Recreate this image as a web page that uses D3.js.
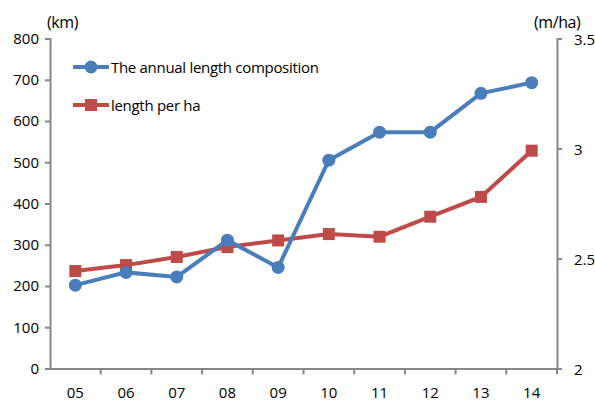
<!DOCTYPE html>
<html>
<head>
<meta charset="utf-8">
<script src="https://cdn.jsdelivr.net/npm/d3@7"></script>
<style>
  body { margin: 0; background: #fff; }
  text { font-family: "Open Sans", sans-serif; fill: #000; }
</style>
</head>
<body>
<script>
// chart data
var years = ["05", "06", "07", "08", "09", "10", "11", "12", "13", "14"];
var annualLength = [202, 233, 222, 311, 245, 505, 573, 573, 667, 693];
var lengthPerHa = [2.443, 2.47, 2.507, 2.552, 2.582, 2.611, 2.599, 2.69, 2.78, 2.99];
var leftTicks = [0, 100, 200, 300, 400, 500, 600, 700, 800];
var rightTicks = [2, 2.5, 3, 3.5];
var seriesNames = ["The annual length composition", "length per ha"];

var width = 595,
    height = 401;
var margin = {top: 38.5, right: 38, bottom: 32.5, left: 50};

var blue = "#4a7ebb", red = "#be4b48", axisColor = "#878787";

var svg = d3.select("body").append("svg")
    .attr("width", width)
    .attr("height", height);

var x = d3.scaleBand().domain(years)
    .range([margin.left, width - margin.right]);
var yL = d3.scaleLinear().domain([0, 800])
    .range([height - margin.bottom, margin.top]);
var yR = d3.scaleLinear().domain([2, 3.5])
    .range([height - margin.bottom, margin.top]);

// left axis
var gL = svg.append("g")
    .attr("transform", "translate(" + margin.left + ",0)")
    .call(d3.axisLeft(yL).tickValues(leftTicks).tickSize(5).tickPadding(6));
// right axis
var gR = svg.append("g")
    .attr("transform", "translate(" + (width - margin.right) + ",0)")
    .call(d3.axisRight(yR).tickValues(rightTicks).tickFormat(function(d) { return d; }).tickSize(5).tickPadding(12));
// bottom axis, ticks drawn between categories below
var gB = svg.append("g")
    .attr("transform", "translate(0," + (height - margin.bottom) + ")")
    .call(d3.axisBottom(x).tickSize(0).tickPadding(19));

[gL, gR, gB].forEach(function(g) {
  g.select(".domain").attr("stroke", axisColor).attr("stroke-width", 2);
  g.selectAll(".tick line").attr("stroke", axisColor).attr("stroke-width", 2);
  g.selectAll("text").style("font-size", "15px").style("font-family", "Open Sans, sans-serif").attr("fill", "#000");
});
gR.selectAll("text").attr("dy", "0.42em");

gB.selectAll(".sep")
    .data(years.slice(1).concat(["end"]))
    .enter().append("line")
    .attr("x1", function(d, i) { return margin.left + x.step() * (i + 1); })
    .attr("x2", function(d, i) { return margin.left + x.step() * (i + 1); })
    .attr("y1", 0).attr("y2", 6)
    .attr("stroke", axisColor).attr("stroke-width", 2);

// unit labels
svg.append("text").attr("x", 47).attr("y", 28)
    .style("font-size", "16px").style("letter-spacing", "-0.4px").text("(km)");
svg.append("text").attr("x", 534).attr("y", 28)
    .style("font-size", "16px").style("letter-spacing", "-0.4px").text("(m/ha)");

var cx = function(d, i) { return x(years[i]) + x.bandwidth() / 2; };

// red series
svg.append("path")
    .datum(lengthPerHa)
    .attr("fill", "none").attr("stroke", red).attr("stroke-width", 4)
    .attr("d", d3.line().x(cx).y(function(d) { return yR(d); }));
svg.selectAll(".sq")
    .data(lengthPerHa)
    .enter().append("rect")
    .attr("x", function(d, i) { return cx(d, i) - 6; })
    .attr("y", function(d) { return yR(d) - 6; })
    .attr("width", 12).attr("height", 12)
    .attr("fill", red);

// blue series
svg.append("path")
    .datum(annualLength)
    .attr("fill", "none").attr("stroke", blue).attr("stroke-width", 4)
    .attr("d", d3.line().x(cx).y(function(d) { return yL(d); }));
svg.selectAll(".dot")
    .data(annualLength)
    .enter().append("circle")
    .attr("cx", cx)
    .attr("cy", function(d) { return yL(d); })
    .attr("r", 6.5)
    .attr("fill", blue);

// legend
var legend = svg.append("g").selectAll("g")
    .data(seriesNames)
    .enter().append("g")
    .attr("transform", function(d, i) { return "translate(73," + (67 + i * 38) + ")"; });
legend.append("line")
    .attr("x1", 0).attr("x2", 36)
    .attr("stroke", function(d, i) { return i ? red : blue; })
    .attr("stroke-width", 4);
legend.each(function(d, i) {
  var g = d3.select(this);
  if (i === 0) g.append("circle").attr("cx", 18).attr("r", 6.5).attr("fill", blue);
  else g.append("rect").attr("x", 12).attr("y", -6).attr("width", 12).attr("height", 12).attr("fill", red);
});
legend.append("text")
    .attr("x", 38).attr("y", 5.5)
    .style("font-size", "15px")
    .style("letter-spacing", "-0.3px")
    .text(function(d) { return d; });
</script>
</body>
</html>
